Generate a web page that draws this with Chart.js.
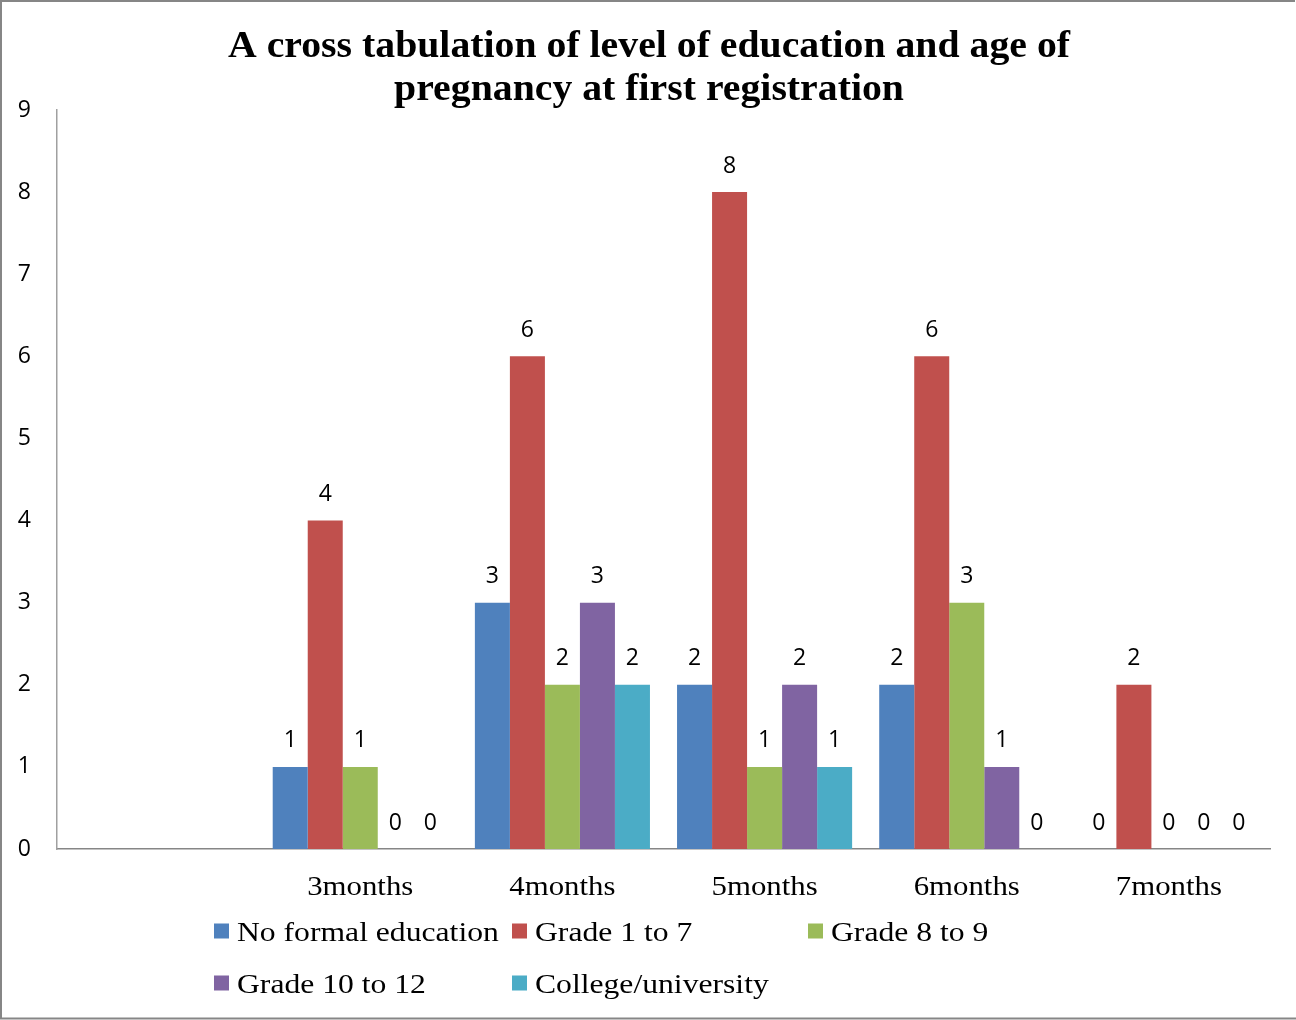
<!DOCTYPE html>
<html>
<head>
<meta charset="utf-8">
<script src="https://cdn.jsdelivr.net/npm/chart.js@4.4.0/dist/chart.umd.min.js"></script>
<style>
html,body{margin:0;padding:0;background:#fff;}
canvas{display:block;}
</style>
</head>
<body>
<canvas id="c" width="1296" height="1020"></canvas>
<script>
const categories = ["", "3months", "4months", "5months", "6months", "7months"];
const noFormalEducation = [null, 1, 3, 2, 2, 0];
const grade1to7 = [null, 4, 6, 8, 6, 2];
const grade8to9 = [null, 1, 2, 1, 3, 0];
const grade10to12 = [null, 0, 3, 2, 1, 0];
const collegeUniversity = [null, 0, 2, 1, 0, 0];
const yTicks = [0, 1, 2, 3, 4, 5, 6, 7, 8, 9];
const titleLines = ["A cross tabulation of level of education and age of", "pregnancy at first registration"];

const seriesNames = ["No formal education", "Grade 1 to 7", "Grade 8 to 9", "Grade 10 to 12", "College/university"];
const seriesColors = ["#4F81BD", "#C0504D", "#9BBB59", "#8064A2", "#4BACC6"];
const seriesData = [noFormalEducation, grade1to7, grade8to9, grade10to12, collegeUniversity];

const sansFamily = '"Open Sans", sans-serif';
const serifFamily = '"Liberation Serif", "Times New Roman", serif';
const tickStretch = 1.1;
const legendStretch = 1.13;

function drawStretched(ctx, text, x, y, sx, align) {
  ctx.save();
  ctx.scale(sx, 1);
  ctx.textAlign = align;
  ctx.fillText(text, x / sx, y);
  ctx.restore();
}

const framePlugin = {
  id: 'frame',
  beforeDraw(chart) {
    const ctx = chart.ctx;
    ctx.save();
    ctx.fillStyle = '#fff';
    ctx.fillRect(0, 0, chart.width, chart.height);
    ctx.restore();
  },
  afterDraw(chart) {
    const ctx = chart.ctx;
    ctx.save();
    ctx.strokeStyle = '#868686';
    ctx.lineWidth = 2;
    ctx.beginPath();
    ctx.moveTo(1, 1019); ctx.lineTo(1, 1); ctx.lineTo(1295, 1);
    ctx.moveTo(0, 1018.5); ctx.lineTo(1296, 1018.5);
    ctx.stroke();
    ctx.restore();
  }
};

const titlePlugin = {
  id: 'customTitle',
  afterDraw(chart) {
    const ctx = chart.ctx;
    ctx.save();
    ctx.fillStyle = '#000';
    ctx.font = 'bold 37px ' + serifFamily;
    ctx.textBaseline = 'alphabetic';
    const w = ctx.measureText(titleLines[0]).width;
    const sx = 842 / w;
    drawStretched(ctx, titleLines[0], 649, 57, sx, 'center');
    drawStretched(ctx, titleLines[1], 649, 100, sx, 'center');
    ctx.restore();
  }
};

const xLabelPlugin = {
  id: 'xLabels',
  afterDraw(chart) {
    const ctx = chart.ctx;
    const xs = chart.scales.x;
    ctx.save();
    ctx.fillStyle = '#000';
    ctx.font = '28px ' + serifFamily;
    ctx.textBaseline = 'alphabetic';
    chart.data.labels.forEach((lab, i) => {
      if (!lab) return;
      drawStretched(ctx, lab, xs.getPixelForValue(i), 895, tickStretch, 'center');
    });
    ctx.restore();
  }
};

const valueLabelPlugin = {
  id: 'valueLabels',
  afterDatasetsDraw(chart) {
    const ctx = chart.ctx;
    ctx.save();
    ctx.fillStyle = '#000';
    ctx.font = '23px ' + sansFamily;
    ctx.textAlign = 'center';
    ctx.textBaseline = 'middle';
    chart.data.datasets.forEach((ds, i) => {
      const meta = chart.getDatasetMeta(i);
      meta.data.forEach((bar, j) => {
        const v = ds.data[j];
        if (v === null || v === undefined) return;
        ctx.fillText(String(v), bar.x, bar.y - 26);
      });
    });
    ctx.restore();
  }
};

const legendPlugin = {
  id: 'customLegend',
  afterDraw(chart) {
    const ctx = chart.ctx;
    const pos = [[214, 931], [512, 931], [808, 931], [214, 983], [512, 983]];
    ctx.save();
    ctx.font = '28px ' + serifFamily;
    ctx.textBaseline = 'alphabetic';
    chart.data.datasets.forEach((ds, i) => {
      const [x, y] = pos[i];
      ctx.fillStyle = ds.backgroundColor;
      ctx.fillRect(x, y - 7.5, 15, 15);
      ctx.fillStyle = '#000';
      drawStretched(ctx, ds.label, x + 23, y + 10, legendStretch, 'left');
    });
    ctx.restore();
  }
};

new Chart(document.getElementById('c'), {
  type: 'bar',
  data: {
    labels: categories,
    datasets: seriesNames.map((name, i) => ({
      label: name,
      data: seriesData[i],
      backgroundColor: seriesColors[i],
      borderWidth: 0,
      barPercentage: 1.0,
      categoryPercentage: 0.866
    }))
  },
  options: {
    responsive: false,
    animation: false,
    layout: { padding: { top: 110, left: 0, right: 26, bottom: 111 } },
    plugins: {
      legend: { display: false },
      title: { display: false },
      tooltip: { enabled: false }
    },
    scales: {
      x: {
        grid: { display: false, drawTicks: false },
        border: { display: true, color: '#868686', width: 1.5 },
        ticks: { display: false },
        afterFit(scale) { scale.height = 60; }
      },
      y: {
        min: 0,
        max: 9,
        afterBuildTicks(scale) { scale.ticks = yTicks.map(v => ({ value: v })); },
        grid: { display: false, drawTicks: false },
        border: { display: true, color: '#A0A0A0', width: 1.5 },
        ticks: {
          color: '#000',
          font: { family: sansFamily, size: 23 },
          padding: 26
        },
        afterFit(scale) { scale.width = 57; }
      }
    }
  },
  plugins: [framePlugin, titlePlugin, xLabelPlugin, valueLabelPlugin, legendPlugin]
});
</script>
</body>
</html>
